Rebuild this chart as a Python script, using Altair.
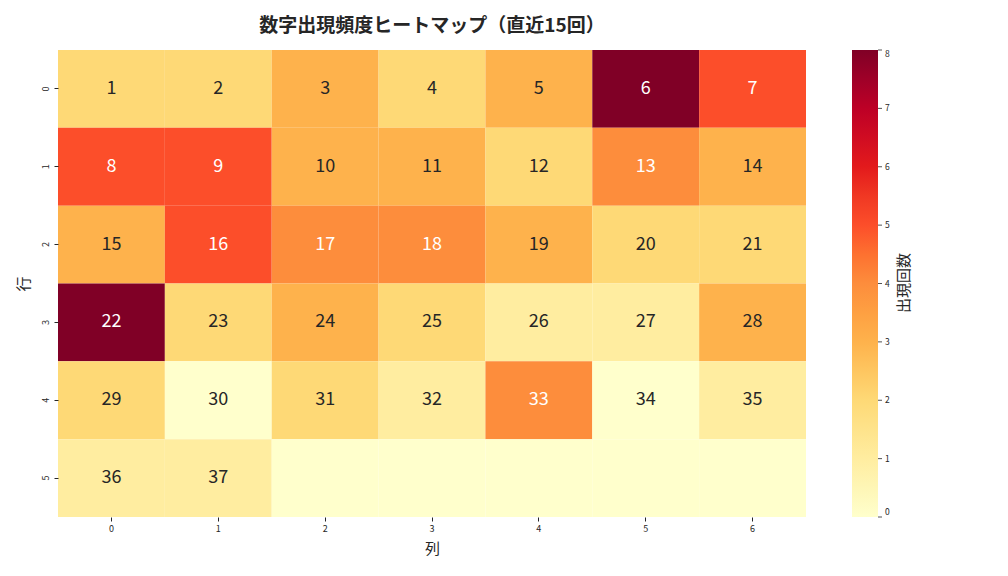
import altair as alt
import pandas as pd

# 出現回数 (6行 x 7列)
counts = [
    [2, 2, 3, 2, 3, 8, 5],
    [5, 5, 3, 3, 2, 4, 3],
    [3, 5, 4, 4, 3, 2, 2],
    [8, 2, 3, 2, 1, 1, 3],
    [2, 0, 2, 1, 4, 0, 1],
    [1, 1, 0, 0, 0, 0, 0],
]
numbers = [
    ["1", "2", "3", "4", "5", "6", "7"],
    ["8", "9", "10", "11", "12", "13", "14"],
    ["15", "16", "17", "18", "19", "20", "21"],
    ["22", "23", "24", "25", "26", "27", "28"],
    ["29", "30", "31", "32", "33", "34", "35"],
    ["36", "37", "", "", "", "", ""],
]
ylorrd = ["#ffffcc", "#ffeda0", "#fed976", "#feb24c", "#fd8d3c",
          "#fc4e2a", "#e31a1c", "#bd0026", "#800026"]
cbar_ticks = [0, 1, 2, 3, 4, 5, 6, 7, 8]
cbar_title = "出現回数"

rows = []
for r, row in enumerate(counts):
    for c, v in enumerate(row):
        rows.append({"行": r, "列": c, "count": v, "num": numbers[r][c]})
df = pd.DataFrame(rows)

FONT = "Noto Sans CJK JP"

x_enc = alt.X("列:O", title="列",
              scale=alt.Scale(paddingInner=0, paddingOuter=0),
              axis=alt.Axis(labelAngle=0, labelFontSize=9, titleFontSize=15,
                            titlePadding=8, tickSize=4, domain=False,
                            labelPadding=3))
y_enc = alt.Y("行:O", title="行",
              scale=alt.Scale(paddingInner=0, paddingOuter=0),
              axis=alt.Axis(labelAngle=270, labelFontSize=9, titleFontSize=15,
                            titlePadding=10, tickSize=4, domain=False,
                            labelAlign="center", labelBaseline="bottom",
                            labelPadding=4))

base = alt.Chart(df).encode(x=x_enc, y=y_enc)

cells = base.mark_rect(strokeWidth=0).encode(
    color=alt.Color("count:Q", title="",
                    scale=alt.Scale(domain=cbar_ticks, range=ylorrd),
                    legend=alt.Legend(orient="none", legendX=794, legendY=0,
                                      direction="vertical",
                                      gradientLength=467, gradientThickness=26,
                                      values=cbar_ticks, labelFontSize=8.5,
                                      labelOffset=7, padding=0))
)

labels = base.mark_text(fontSize=18, font=FONT, fontWeight="normal").encode(
    text="num:N",
    color=alt.condition(alt.datum.count >= 4, alt.value("white"), alt.value("#262626")),
)

heat = alt.layer(cells, labels)

# colorbar tick marks
ticks = alt.Chart(pd.DataFrame({"v": cbar_ticks})).mark_rule(
    color="#262626", strokeWidth=0.8
).encode(
    x=alt.value(820), x2=alt.value(824),
    y=alt.Y("v:Q", scale=alt.Scale(domain=[0, 8]), axis=None),
)

cbar_label = alt.Chart(pd.DataFrame({"t": [cbar_title]})).mark_text(
    angle=270, fontSize=15, font=FONT, color="#262626"
).encode(text="t:N", x=alt.value(846), y=alt.value(233))

chart = alt.layer(heat, ticks, cbar_label).resolve_scale(
    y="independent"
).properties(
    width=748,
    height=467,
    autosize=alt.AutoSizeParams(type="none"),
    padding={"left": 50, "top": 42, "right": 194, "bottom": 51},
    title=alt.TitleParams("数字出現頻度ヒートマップ（直近15回）", fontSize=19,
                          fontWeight="bold", font=FONT, anchor="middle",
                          offset=14, color="#262626"),
).configure(font=FONT).configure_view(strokeWidth=0).configure_axis(
    labelColor="#262626", titleColor="#262626", tickColor="#262626",
    titleFontWeight="normal"
).configure_legend(labelColor="#262626", titleColor="#262626")

chart.save("out.html", embed_options={"renderer": "svg", "actions": False})
